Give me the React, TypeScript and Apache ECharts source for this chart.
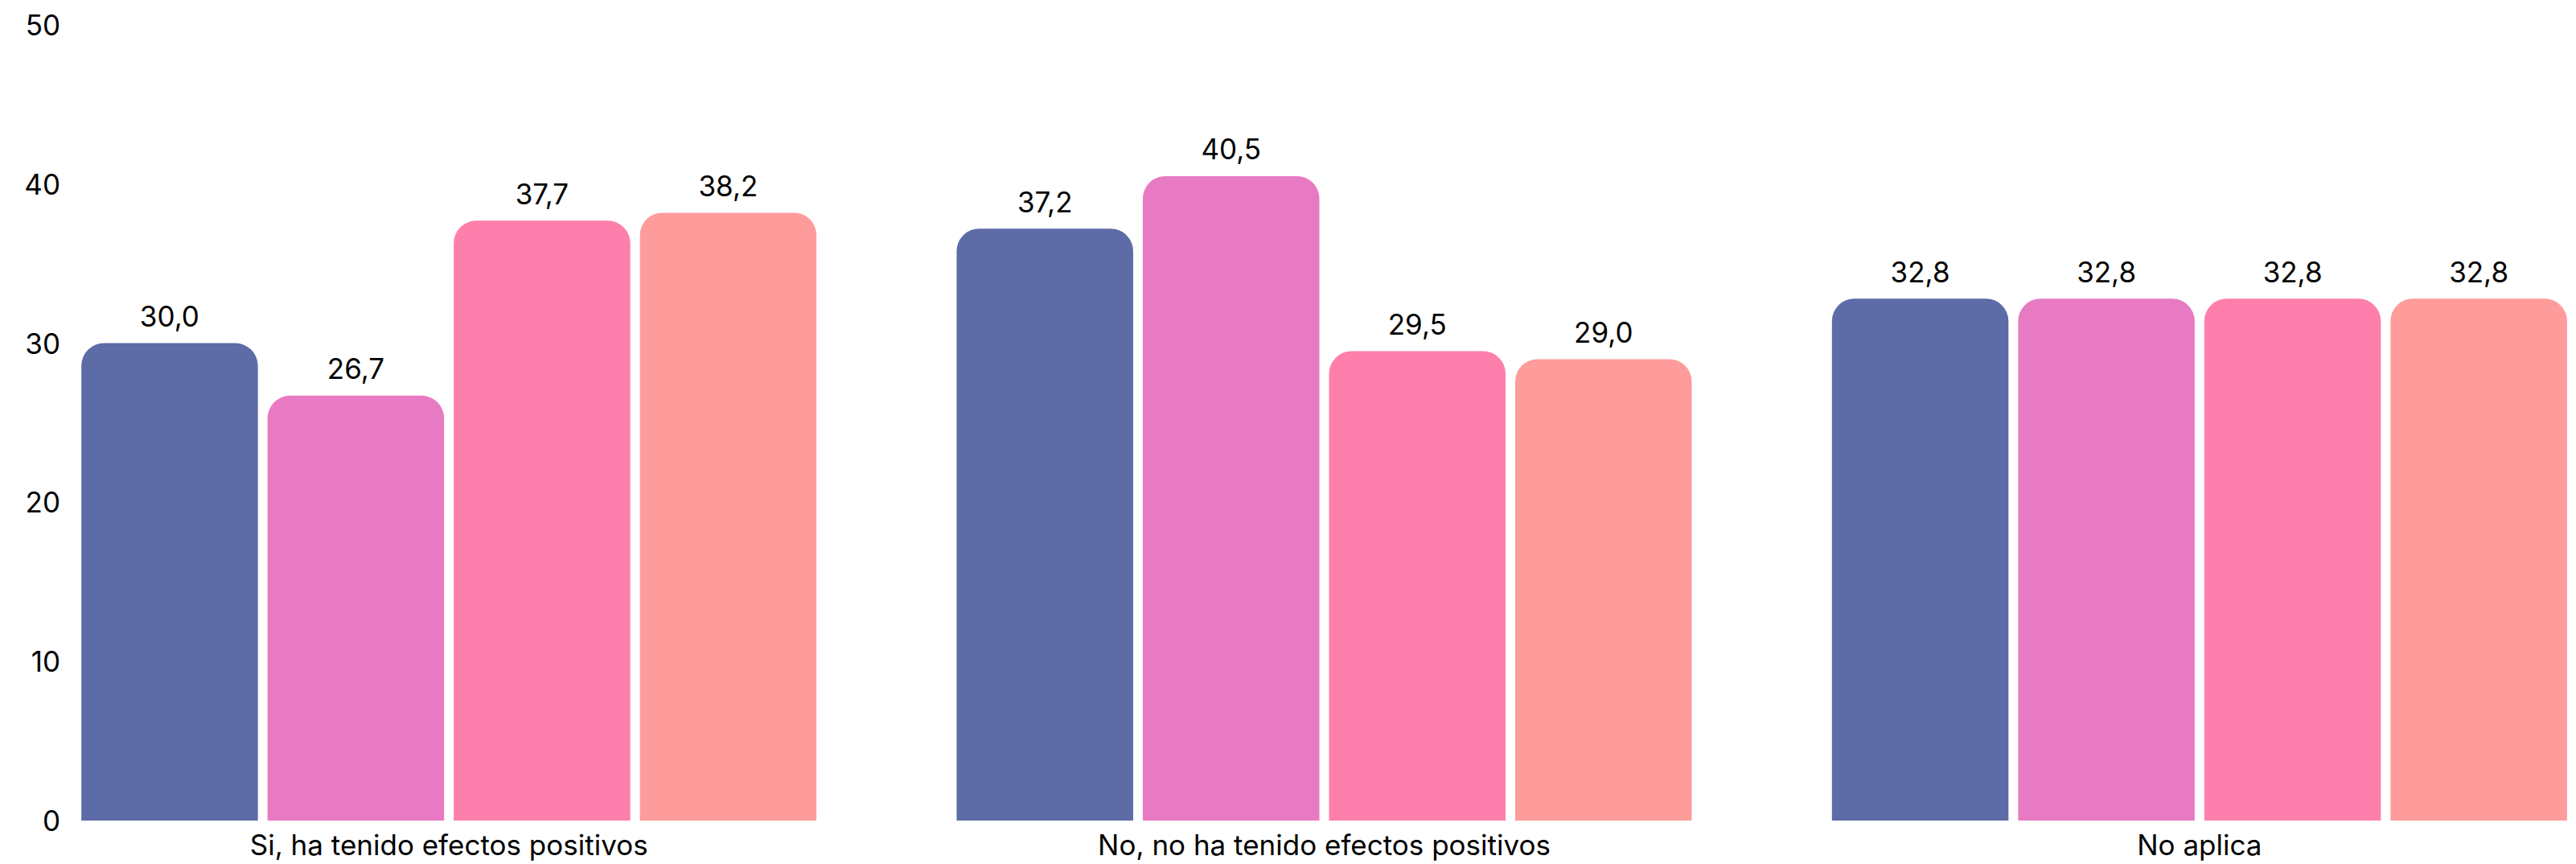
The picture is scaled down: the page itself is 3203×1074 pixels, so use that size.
import React, { useEffect, useRef } from "react";
import * as echarts from "echarts";

const categories = [
  "Si, ha tenido efectos positivos",
  "No, no ha tenido efectos positivos",
  "No aplica",
];
const seriesNames = ["Grupo 1", "Grupo 2", "Grupo 3", "Grupo 4"];
const serie1 = [30.0, 37.2, 32.8];
const serie2 = [26.7, 40.5, 32.8];
const serie3 = [37.7, 29.5, 32.8];
const serie4 = [38.2, 29.0, 32.8];
const colors = ["#5D6BA7", "#E77AC2", "#FE7FAB", "#FE9B9B"];

const FONT = "Inter, 'Noto Sans', sans-serif";

export default function App() {
  const ref = useRef<HTMLDivElement>(null);
  useEffect(() => {
    if (!ref.current) return;
    const chart = echarts.init(ref.current, undefined, { renderer: "svg" });
    const all = [serie1, serie2, serie3, serie4];
    chart.setOption({
      animation: false,
      backgroundColor: "#ffffff",
      textStyle: { fontFamily: FONT },
      grid: {
        left: 14,
        top: 31,
        width: 3265,
        height: 989,
        containLabel: false,
        outerBoundsMode: "none",
      },
      xAxis: {
        type: "category",
        data: categories,
        axisLine: { show: false },
        axisTick: { show: false },
        axisLabel: {
          color: "#000",
          fontSize: 35,
          lineHeight: 34,
          margin: 13,
          fontFamily: FONT,
        },
      },
      yAxis: {
        type: "value",
        min: 0,
        max: 50,
        interval: 10,
        offset: -69,
        axisLine: { show: false },
        axisTick: { show: false },
        splitLine: { show: false },
        axisLabel: { color: "#000", fontSize: 35, margin: 8, fontFamily: FONT },
      },
      series: all.map((d, i) => ({
        name: seriesNames[i],
        type: "bar",
        data: d,
        barWidth: 219.5,
        barGap: "5.47%",
        itemStyle: { color: colors[i], borderRadius: [28, 28, 0, 0] },
        label: {
          show: true,
          position: "top",
          distance: 16,
          color: "#000",
          fontSize: 35,
          fontFamily: FONT,
          formatter: (p: any) => Number(p.value).toFixed(1).replace(".", ","),
        },
      })),
    });
    return () => chart.dispose();
  }, []);
  return (
    <div
      ref={ref}
      style={{ position: "fixed", left: 0, top: 0, width: 3203, height: 1074 }}
    />
  );
}
